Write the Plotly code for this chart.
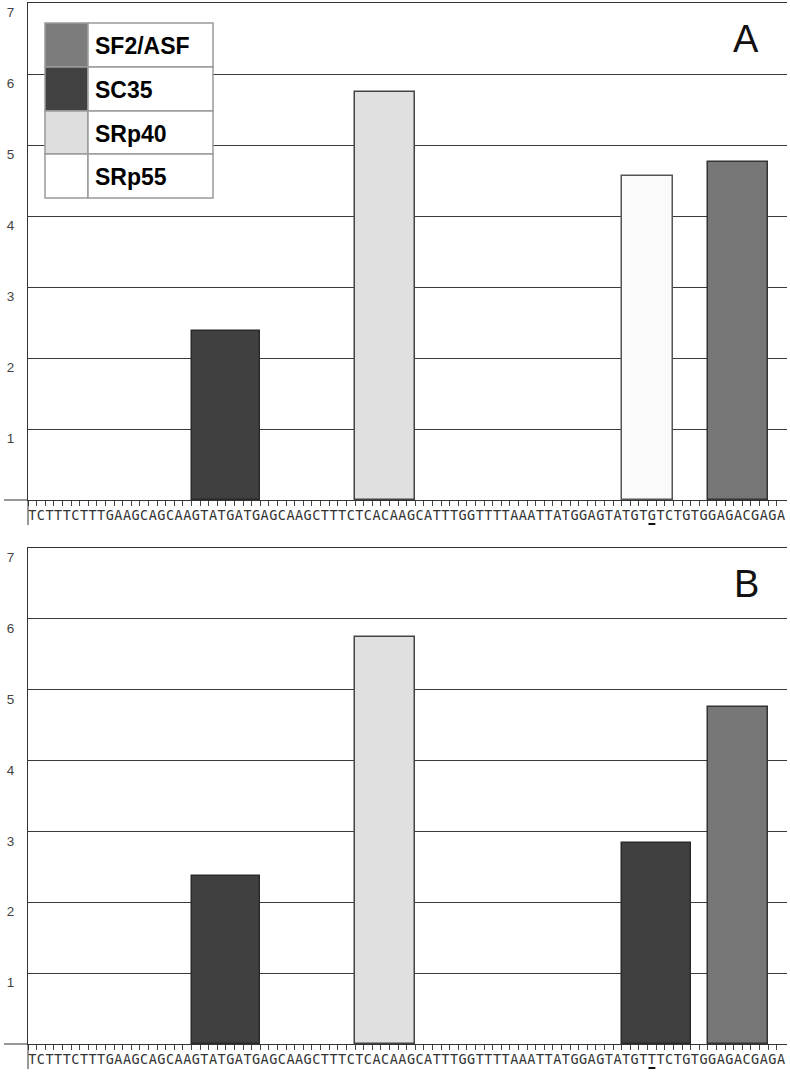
import plotly.graph_objects as go

# ---------------- data ----------------
sequence_A = "TCTTTCTTTGAAGCAGCAAGTATGATGAGCAAGCTTTCTCACAAGCATTTGGTTTTAAATTATGGAGTATGTGTCTGTGGAGACGAGA"
sequence_B = "TCTTTCTTTGAAGCAGCAAGTATGATGAGCAAGCTTTCTCACAAGCATTTGGTTTTAAATTATGGAGTATGTTTCTGTGGAGACGAGA"
mutation_index = 72

proteins_A = ["SC35", "SRp40", "SRp55", "SF2/ASF"]
starts_A = [19, 38, 69, 79]
lengths_A = [8, 7, 6, 7]
scores_A = [2.38, 5.75, 4.57, 4.76]

proteins_B = ["SC35", "SRp40", "SC35", "SF2/ASF"]
starts_B = [19, 38, 69, 79]
lengths_B = [8, 7, 8, 7]
scores_B = [2.37, 5.75, 2.83, 4.75]

legend_names = ["SF2/ASF", "SC35", "SRp40", "SRp55"]
y_ticks = [1, 2, 3, 4, 5, 6, 7]
panel_labels = ["A", "B"]

colors = {"SF2/ASF": "#777777", "SC35": "#404040", "SRp40": "#e0e0e0", "SRp55": "#fafafa"}
outline = {"SF2/ASF": "#333333", "SC35": "#2a2a2a", "SRp40": "#444444", "SRp55": "#555555"}
legend_swatch = {"SF2/ASF": "#7c7c7c", "SC35": "#414141", "SRp40": "#dedede", "SRp55": "#ffffff"}

W, H = 790, 1075
def px(x): return x / W
def py(y): return 1 - y / H

fig = go.Figure()

panels = [
    (sequence_A, proteins_A, starts_A, lengths_A, scores_A, "x", "y", 3, 500),
    (sequence_B, proteins_B, starts_B, lengths_B, scores_B, "x2", "y2", 548, 1044),
]

shapes = []
annotations = []
for k, (seq, prots, sts, lens, scs, xa, ya, top, bot) in enumerate(panels):
    fig.add_trace(go.Bar(
        x=[s + l / 2 for s, l in zip(sts, lens)],
        y=scs,
        width=lens,
        marker=dict(color=[colors[p] for p in prots],
                    line=dict(color=[outline[p] for p in prots], width=1.5)),
        xaxis=xa, yaxis=ya, showlegend=False, hoverinfo="skip",
    ))
    n = len(seq)
    xkey = "xaxis" if k == 0 else "xaxis2"
    ykey = "yaxis" if k == 0 else "yaxis2"
    fig.update_layout({
        xkey: dict(
            domain=[px(28), px(787)], range=[0, n + 0.2], anchor=ya,
            tickmode="array", tickvals=[i + 0.5 for i in range(n)], ticktext=list(seq),
            ticks="", showgrid=False, zeroline=False, tickangle=0,
            showline=True, linecolor="#333333", linewidth=1, mirror=True,
            tickfont=dict(family="DejaVu Sans Mono", size=13.5, color="#333333"),
            ticklabelstandoff=3,
            minor=dict(tickmode="array", tickvals=list(range(n)), ticks="outside",
                       ticklen=5, tickcolor="#444444", tickwidth=1, showgrid=False),
            automargin=False, fixedrange=True,
        ),
        ykey: dict(
            domain=[py(bot), py(top)], range=[0, 7], anchor=xa,
            tickmode="array", tickvals=y_ticks, ticktext=[str(v) for v in y_ticks],
            ticks="", showgrid=True, gridcolor="#3a3a3a", gridwidth=1, zeroline=False,
            showline=True, linecolor="#333333", linewidth=1,
            ticklabelposition="outside bottom", ticklabelstandoff=10,
            tickfont=dict(family="Liberation Sans", size=13.5, color="#444444"),
            automargin=False, fixedrange=True,
        ),
    })
    # extended axis lines (left of x axis, below y axis)
    shapes.append(dict(type="line", xref="paper", yref="paper", x0=px(4), x1=px(28),
                       y0=py(bot), y1=py(bot), line=dict(color="#333333", width=1)))
    shapes.append(dict(type="line", xref="paper", yref="paper", x0=px(28), x1=px(28),
                       y0=py(bot), y1=py(bot + 25), line=dict(color="#333333", width=1)))
    # underline of the mutated base
    shapes.append(dict(type="line", xref=xa, yref="paper",
                       x0=mutation_index + 0.1, x1=mutation_index + 0.9,
                       y0=py(bot + 24), y1=py(bot + 24), line=dict(color="#111111", width=2)))
    # panel label
    annotations.append(dict(text=panel_labels[k], xref="paper", yref="paper",
                            x=px(746), y=py(top + 36), xanchor="center", yanchor="middle",
                            showarrow=False, font=dict(family="Liberation Sans", size=38, color="#111111")))

# legend table (panel A)
lx0, lx1, lsw = 45, 213, 88
row_edges = [23, 67, 111, 154, 198]
for i, name in enumerate(legend_names):
    y0, y1 = row_edges[i], row_edges[i + 1]
    shapes.append(dict(type="rect", xref="paper", yref="paper", x0=px(lx0), x1=px(lsw),
                       y0=py(y1), y1=py(y0), fillcolor=legend_swatch[name],
                       line=dict(color="#9a9a9a", width=1.5)))
    shapes.append(dict(type="rect", xref="paper", yref="paper", x0=px(lsw), x1=px(lx1),
                       y0=py(y1), y1=py(y0), fillcolor="#ffffff",
                       line=dict(color="#9a9a9a", width=1.5)))
    annotations.append(dict(text="<b>" + name + "</b>", xref="paper", yref="paper",
                            x=px(93), y=py((y0 + y1) / 2 + 1), xanchor="left", yanchor="middle",
                            showarrow=False, font=dict(family="Liberation Sans", size=23, color="#000000")))

fig.update_layout(
    width=W, height=H, margin=dict(l=0, r=0, t=0, b=0, pad=0),
    paper_bgcolor="#ffffff", plot_bgcolor="#ffffff",
    bargap=0, shapes=shapes, annotations=annotations, showlegend=False,
)

fig.write_html("out.html", config={"displayModeBar": False},
               post_script="document.body.style.margin='0';")
